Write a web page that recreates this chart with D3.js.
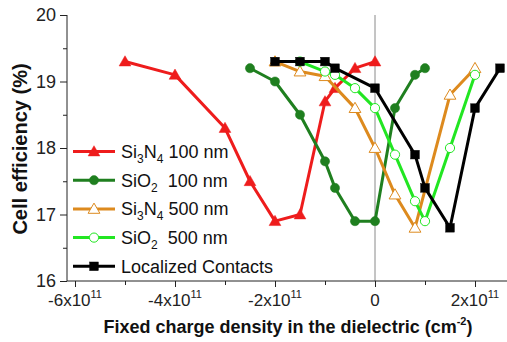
<!DOCTYPE html>
<html>
<head>
<meta charset="utf-8">
<script src="https://cdn.jsdelivr.net/npm/d3@7"></script>
<style>
  body { margin: 0; background: #fff; }
  svg { display: block; font-family: "Liberation Sans", Arial, sans-serif; }
</style>
</head>
<body>
<svg id="chart" width="507" height="342"></svg>
<script>
// values (x in cm^-2, y in %)
const si3n4_100_x = [-5e11, -4e11, -3e11, -2.5e11, -2e11, -1.5e11, -1e11, -0.8e11, -0.4e11, 0];
const si3n4_100_y = [19.3, 19.1, 18.3, 17.5, 16.9, 17.0, 18.7, 18.9, 19.2, 19.3];
const sio2_100_x = [-2.5e11, -2e11, -1.5e11, -1e11, -0.8e11, -0.4e11, 0, 0.4e11, 0.8e11, 1e11];
const sio2_100_y = [19.2, 19.0, 18.5, 17.8, 17.4, 16.9, 16.9, 18.6, 19.1, 19.2];
const si3n4_500_x = [-2e11, -1.5e11, -1e11, -0.4e11, 0, 0.4e11, 0.8e11, 1.5e11, 2e11];
const si3n4_500_y = [19.3, 19.15, 19.08, 18.6, 18.0, 17.3, 16.8, 18.8, 19.2];
const sio2_500_x = [-1.5e11, -1e11, -0.8e11, -0.4e11, 0, 0.4e11, 0.8e11, 1e11, 1.5e11, 2e11];
const sio2_500_y = [19.3, 19.15, 19.1, 18.9, 18.6, 17.9, 17.2, 16.9, 18.0, 19.1];
const contacts_x = [-2e11, -1.5e11, -1e11, -0.8e11, 0, 0.8e11, 1e11, 1.5e11, 2e11, 2.5e11];
const contacts_y = [19.3, 19.3, 19.3, 19.2, 18.9, 17.9, 17.4, 16.8, 18.6, 19.2];

const xTicks = [-6e11, -4e11, -2e11, 0, 2e11];
const xTickLabels = ["-6x10", "-4x10", "-2x10", "0", "2x10"];
const xMinor = [-5e11, -3e11, -1e11, 1e11];
const yTicks = [16, 17, 18, 19, 20];
const yMinor = [16.5, 17.5, 18.5, 19.5];

const series = [
  { name: ["Si", "3", "N", "4", " 100 nm"], xs: si3n4_100_x, ys: si3n4_100_y, color: "#ee1c1c", marker: "tri", open: false },
  { name: ["SiO", "2", "", "", "  100 nm"], xs: sio2_100_x, ys: sio2_100_y, color: "#1f7f1f", marker: "circle", open: false },
  { name: ["Si", "3", "N", "4", " 500 nm"], xs: si3n4_500_x, ys: si3n4_500_y, color: "#dd8a1e", marker: "tri", open: true },
  { name: ["SiO", "2", "", "", "  500 nm"], xs: sio2_500_x, ys: sio2_500_y, color: "#22e622", marker: "circle", open: true },
  { name: ["Localized Contacts", "", "", "", ""], xs: contacts_x, ys: contacts_y, color: "#000000", marker: "square", open: false }
];

const svg = d3.select("#chart");
const x = d3.scaleLinear().domain([-6.16e11, 2.64e11]).range([67, 507]);
const y = d3.scaleLinear().domain([16, 20]).range([281, 15]);

// zero line
svg.append("line")
  .attr("x1", x(0)).attr("x2", x(0))
  .attr("y1", y(20)).attr("y2", y(16))
  .attr("stroke", "#8a8a8a").attr("stroke-width", 1);

// axes
const xAxis = svg.append("g").attr("transform", `translate(0,${y(16)})`)
  .call(d3.axisBottom(x).tickValues(xTicks).tickSize(6).tickFormat(""));
xAxis.select(".domain").attr("d", `M${x.range()[0]},0H${x.range()[1]}`);
svg.append("g").attr("transform", `translate(0,${y(16)})`)
  .call(d3.axisBottom(x).tickValues(xMinor).tickSize(4).tickFormat(""))
  .select(".domain").remove();

const yAxis = svg.append("g").attr("transform", `translate(${x.range()[0]},0)`)
  .call(d3.axisLeft(y).tickValues(yTicks).tickSize(7).tickPadding(4).tickFormat(d3.format("d")))
  .attr("font-family", null).attr("font-size", 18);
yAxis.select(".domain").attr("d", `M0,${y(16)}V${y(20)}`);
svg.append("g").attr("transform", `translate(${x.range()[0]},0)`)
  .call(d3.axisLeft(y).tickValues(yMinor).tickSize(4).tickFormat(""))
  .select(".domain").remove();
svg.selectAll(".domain, .tick line").attr("stroke", "#222").attr("stroke-width", 1);
svg.selectAll(".tick text").attr("fill", "#222");

// x tick labels with superscripts
const xl = svg.append("g").attr("fill", "#222").attr("font-size", 17);
xTicks.forEach((v, i) => {
  const t = xl.append("text").attr("x", x(v)).attr("y", 306).attr("text-anchor", "middle");
  t.append("tspan").text(xTickLabels[i]);
  if (v !== 0) t.append("tspan").attr("font-size", 11).attr("dy", -8).text("11");
});

// axis titles
svg.append("text")
  .attr("transform", "rotate(-90)")
  .attr("x", -149).attr("y", 27)
  .attr("text-anchor", "middle")
  .attr("font-weight", "bold").attr("font-size", 20).attr("fill", "#111")
  .text("Cell efficiency (%)");
const xt = svg.append("text")
  .attr("x", 288).attr("y", 333)
  .attr("text-anchor", "middle")
  .attr("font-weight", "bold").attr("font-size", 18).attr("fill", "#111");
xt.append("tspan").text("Fixed charge density in the dielectric (cm");
xt.append("tspan").attr("font-size", 11).attr("dy", -8).text("-2");
xt.append("tspan").attr("dy", 8).text(")");

const line = d3.line().x(d => x(d[0])).y(d => y(d[1]));

function drawMarker(g, kind, cx, cy, s) {
  let m;
  if (kind === "tri") {
    const tri = d3.symbol().type(d3.symbolTriangle).size(60);
    m = g.append("path").attr("d", tri()).attr("transform", `translate(${cx},${cy + 1})`);
  } else if (kind === "circle") {
    m = g.append("circle").attr("cx", cx).attr("cy", cy).attr("r", 4.6);
  } else {
    m = g.append("rect").attr("x", cx - 4.3).attr("y", cy - 4.3).attr("width", 8.6).attr("height", 8.6);
  }
  m.attr("fill", s.open ? "#fff" : s.color)
    .attr("stroke", s.color).attr("stroke-width", s.open ? 1 : 0.5);
}

series.forEach(s => {
  const pts = s.xs.map((v, i) => [v, s.ys[i]]);
  const g = svg.append("g");
  g.append("path").datum(pts).attr("d", line)
    .attr("fill", "none").attr("stroke", s.color).attr("stroke-width", 3)
    .attr("stroke-linejoin", "round");
  pts.forEach(p => drawMarker(g, s.marker, x(p[0]), y(p[1]), s));
});

// legend
const lg = svg.append("g");
series.forEach((s, i) => {
  const cy = 151.5 + i * 28.7;
  lg.append("line").attr("x1", 73).attr("x2", 115).attr("y1", cy).attr("y2", cy)
    .attr("stroke", s.color).attr("stroke-width", 3);
  drawMarker(lg, s.marker, 94, cy, s);
  const t = lg.append("text").attr("x", 121).attr("y", cy + 6.5)
    .attr("font-size", 18).attr("fill", "#111");
  const [a, sub1, b, sub2, rest] = s.name;
  t.append("tspan").text(a);
  if (sub1) t.append("tspan").attr("font-size", 12).attr("dy", 5).text(sub1);
  if (b) t.append("tspan").attr("dy", -5).text(b);
  if (sub2) t.append("tspan").attr("font-size", 12).attr("dy", 5).text(sub2);
  if (rest) t.append("tspan").attr("dy", -5).attr("xml:space", "preserve").text(rest);
});
</script>
</body>
</html>
